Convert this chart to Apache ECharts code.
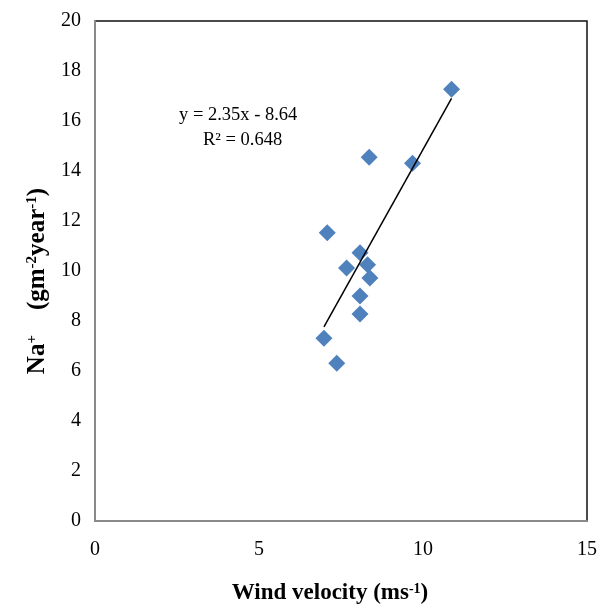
<!DOCTYPE html>
<html>
<head>
<meta charset="utf-8">
<script src="https://cdn.jsdelivr.net/npm/echarts@6/dist/echarts.min.js"></script>
<style>
  html, body { margin: 0; padding: 0; background: #fff; }
  #chart { width: 608px; height: 610px; }
</style>
</head>
<body>
<div id="chart"></div>
<script>
// Wind velocity (m/s) vs Na+ deposition (g m^-2 year^-1)
const windVelocity = [10.87, 8.36, 9.68, 7.08, 8.08, 7.67, 8.31, 8.38, 8.08, 8.08, 6.98, 7.37];
const sodiumFlux   = [17.27, 14.55, 14.31, 11.53, 10.73, 10.12, 10.25, 9.72, 9.00, 8.28, 7.31, 6.31];

// Linear fit reported on the chart
const fitSlope = 2.35;
const fitIntercept = -8.64;
const fitR2 = 0.648;

const xTicks = [0, 5, 10, 15];
const yTicks = [0, 2, 4, 6, 8, 10, 12, 14, 16, 18, 20];

const points = windVelocity.map((x, i) => [x, sodiumFlux[i]]);
const xMin = Math.min(...windVelocity);
const xMax = Math.max(...windVelocity);
const fitLine = [xMin, xMax].map(x => [x, fitSlope * x + fitIntercept]);

const serif = '"Liberation Serif", "Times New Roman", serif';
const sign = fitIntercept < 0 ? '-' : '+';
const eqText = 'y = ' + fitSlope.toFixed(2) + 'x ' + sign + ' ' + Math.abs(fitIntercept).toFixed(2);
const r2Text = 'R² = ' + fitR2.toFixed(3);

const chart = echarts.init(document.getElementById('chart'), null, { renderer: 'canvas' });

const supStyle = { fontFamily: serif, fontSize: 14, fontWeight: 'bold', color: '#000', verticalAlign: 'top', padding: [0, 0, 9, 0] };
const baseStyle = { fontFamily: serif, fontSize: 23, fontWeight: 'bold', color: '#000' };
const ySupStyle = { fontFamily: serif, fontSize: 15, fontWeight: 'bold', color: '#000', verticalAlign: 'top', padding: [0, 0, 10, 0] };
const yBaseStyle = { fontFamily: serif, fontSize: 25, fontWeight: 'bold', color: '#000' };

chart.setOption({
  animation: false,
  backgroundColor: '#fff',
  grid: {
    left: 95, right: 21, top: 21, bottom: 89,
    show: true, borderColor: '#111', borderWidth: 1.5, backgroundColor: 'transparent'
  },
  xAxis: {
    type: 'value', min: xTicks[0], max: xTicks[xTicks.length - 1], interval: 5,
    axisLine: { show: true, lineStyle: { color: '#8a8a8a', width: 2 } },
    axisTick: { show: false },
    splitLine: { show: false },
    axisLabel: { fontFamily: serif, fontSize: 20, color: '#000', margin: 19 },
    name: '{b|Wind velocity (ms}{s|-1}{b|)}',
    nameLocation: 'middle', nameGap: 61,
    nameTextStyle: { padding: [0, 22, 0, 0], rich: { b: baseStyle, s: supStyle } }
  },
  yAxis: {
    type: 'value', min: yTicks[0], max: yTicks[yTicks.length - 1], interval: 2,
    axisLine: { show: true, lineStyle: { color: '#8a8a8a', width: 2 } },
    axisTick: { show: false },
    splitLine: { show: false },
    axisLabel: { fontFamily: serif, fontSize: 20, color: '#000', margin: 14 },
    name: '{b|Na}{s|+}{b|    (gm}{s|-2}{b|year}{s|-1}{b|)}',
    nameLocation: 'middle', nameGap: 42,
    nameTextStyle: { padding: [0, 20, 0, 0], rich: { b: yBaseStyle, s: ySupStyle } }
  },
  series: [
    {
      type: 'line', data: fitLine, symbol: 'none', silent: true,
      lineStyle: { color: '#000', width: 1.5 }, z: 3
    },
    {
      type: 'scatter', data: points, symbol: 'diamond', symbolSize: [17, 17],
      itemStyle: { color: '#4f81bd', opacity: 1 }, z: 2
    }
  ],
  graphic: [
    { type: 'text', left: 179, top: 106, style: { text: eqText, font: '18.5px ' + serif, fill: '#000' } },
    { type: 'text', left: 203, top: 131, style: { text: r2Text, font: '18.5px ' + serif, fill: '#000' } }
  ]
});
</script>
</body>
</html>
